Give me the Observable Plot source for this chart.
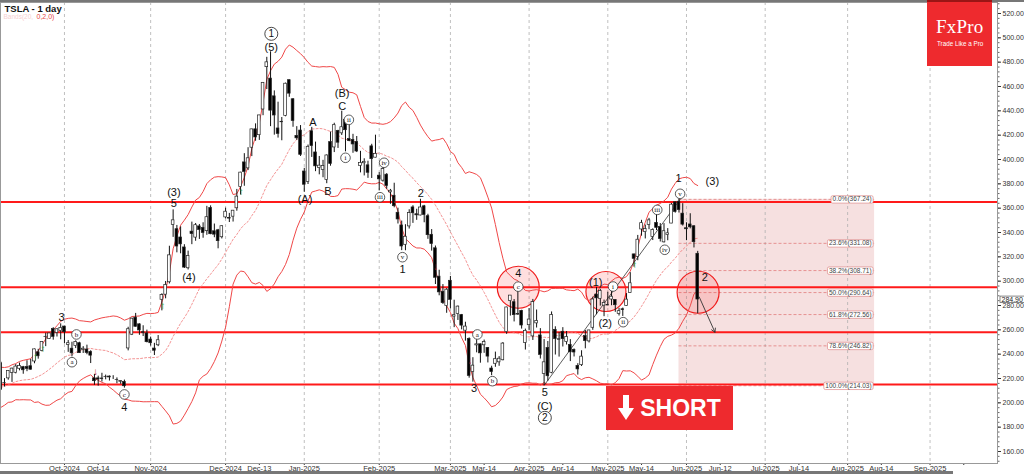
<!DOCTYPE html>
<html><head><meta charset="utf-8">
<script src="https://cdn.jsdelivr.net/npm/d3@7"></script>
<script src="https://cdn.jsdelivr.net/npm/@observablehq/plot@0.6"></script>
<style>
body{margin:0;background:#fff;}
#wrap{position:relative;width:1024px;height:474px;overflow:hidden;font-family:"Liberation Sans",Arial,sans-serif;}
.ov{position:absolute;}
</style></head><body><div id="wrap"></div>
<script>
// ---- daily candles TSLA (Sep 6 2024 - Jun 5 2025) ----
const dates = ("2024-09-06 2024-09-09 2024-09-10 2024-09-11 2024-09-12 2024-09-13 2024-09-16 2024-09-17 2024-09-18 2024-09-19 2024-09-20 2024-09-23 2024-09-24 2024-09-25 2024-09-26 2024-09-27 2024-09-30 " +
"2024-10-01 2024-10-02 2024-10-03 2024-10-04 2024-10-07 2024-10-08 2024-10-09 2024-10-10 2024-10-11 2024-10-14 2024-10-15 2024-10-16 2024-10-17 2024-10-18 2024-10-21 2024-10-22 2024-10-23 2024-10-24 2024-10-25 2024-10-28 2024-10-29 2024-10-30 2024-10-31 " +
"2024-11-01 2024-11-04 2024-11-05 2024-11-06 2024-11-07 2024-11-08 2024-11-11 2024-11-12 2024-11-13 2024-11-14 2024-11-15 2024-11-18 2024-11-19 2024-11-20 2024-11-21 2024-11-22 2024-11-25 2024-11-26 2024-11-27 2024-11-29 " +
"2024-12-02 2024-12-03 2024-12-04 2024-12-05 2024-12-06 2024-12-09 2024-12-10 2024-12-11 2024-12-12 2024-12-13 2024-12-16 2024-12-17 2024-12-18 2024-12-19 2024-12-20 2024-12-23 2024-12-24 2024-12-26 2024-12-27 2024-12-30 2024-12-31 " +
"2025-01-02 2025-01-03 2025-01-06 2025-01-07 2025-01-08 2025-01-10 2025-01-13 2025-01-14 2025-01-15 2025-01-16 2025-01-17 2025-01-21 2025-01-22 2025-01-23 2025-01-24 2025-01-27 2025-01-28 2025-01-29 2025-01-30 2025-01-31 " +
"2025-02-03 2025-02-04 2025-02-05 2025-02-06 2025-02-07 2025-02-10 2025-02-11 2025-02-12 2025-02-13 2025-02-14 2025-02-18 2025-02-19 2025-02-20 2025-02-21 2025-02-24 2025-02-25 2025-02-26 2025-02-27 2025-02-28 " +
"2025-03-03 2025-03-04 2025-03-05 2025-03-06 2025-03-07 2025-03-10 2025-03-11 2025-03-12 2025-03-13 2025-03-14 2025-03-17 2025-03-18 2025-03-19 2025-03-20 2025-03-21 2025-03-24 2025-03-25 2025-03-26 2025-03-27 2025-03-28 2025-03-31 " +
"2025-04-01 2025-04-02 2025-04-03 2025-04-04 2025-04-07 2025-04-08 2025-04-09 2025-04-10 2025-04-11 2025-04-14 2025-04-15 2025-04-16 2025-04-17 2025-04-21 2025-04-22 2025-04-23 2025-04-24 2025-04-25 2025-04-28 2025-04-29 2025-04-30 " +
"2025-05-01 2025-05-02 2025-05-05 2025-05-06 2025-05-07 2025-05-08 2025-05-09 2025-05-12 2025-05-13 2025-05-14 2025-05-15 2025-05-16 2025-05-19 2025-05-20 2025-05-21 2025-05-22 2025-05-23 2025-05-27 2025-05-28 2025-05-29 2025-05-30 " +
"2025-06-02 2025-06-03 2025-06-04 2025-06-05").split(" ");

const open = [
232.6,216.2,220.1,224.6,224.7,228.0,229.3,229.45,230.1,234.0,241.5,242.6,254.1,252.5,260.6,257.4,259.0,
262.7,247.6,244.5,246.7,249.0,243.6,243.8,241.8,220.1,220.1,220.0,221.4,221.6,220.7,218.9,217.3,217.1,244.7,256.0,270.0,264.5,258.0,257.0,
252.0,244.6,247.3,284.7,288.9,299.1,346.3,342.7,335.9,327.7,310.6,340.7,335.8,345.0,343.8,341.1,360.1,341.0,341.8,336.1,
352.4,351.8,353.0,359.9,377.4,397.6,392.7,409.7,424.8,420.0,441.1,475.9,466.5,451.9,425.5,431.0,435.9,465.2,449.5,419.4,423.8,
390.1,381.5,423.2,405.8,392.95,391.4,383.2,414.3,409.9,423.5,421.5,432.6,416.8,416.1,414.45,394.8,396.9,395.2,410.8,401.5,
386.7,382.6,387.5,373.0,370.2,356.2,345.8,329.9,345.0,360.6,355.0,354.0,361.5,353.4,338.1,327.0,303.7,291.2,279.5,
300.3,270.9,272.9,272.1,259.3,252.5,225.3,247.2,248.1,247.3,245.1,228.2,232.1,233.3,234.99,258.1,283.6,282.7,272.5,275.6,249.3,
263.8,254.6,265.3,255.4,223.8,245.0,224.7,260.0,251.8,258.4,249.9,247.6,243.5,230.3,230.96,254.9,250.5,261.7,288.98,285.5,279.9,
280.0,284.9,284.6,273.1,276.9,279.6,290.2,321.99,320.0,342.5,340.3,346.2,336.3,347.9,344.4,331.9,337.9,347.35,364.8,365.3,355.5,
343.5,346.6,345.1,322.5];
const high = [
233.6,219.9,226.4,228.5,231.4,232.7,229.96,234.6,235.7,244.2,243.99,250.0,257.2,257.05,261.75,260.7,264.9,
263.0,251.2,249.8,250.96,249.8,246.2,247.4,242.8,223.3,221.9,224.3,222.8,222.1,222.3,220.5,218.2,218.7,262.1,269.5,273.5,264.98,263.35,259.75,
254.0,248.9,255.3,289.6,299.75,328.7,358.6,345.8,344.6,329.98,324.7,348.55,347.4,346.6,347.99,361.5,361.9,346.96,342.55,345.45,
360.0,355.7,358.1,375.4,389.5,404.8,409.7,424.9,429.3,436.3,463.2,483.99,488.5,456.4,447.1,434.5,462.8,465.3,450.0,427.0,427.9,
392.7,411.9,426.4,414.3,402.5,399.3,403.8,422.6,429.8,424.0,439.7,433.2,428.0,420.7,418.9,406.7,400.6,398.6,412.5,419.99,
389.2,394.0,388.4,375.4,380.5,360.0,349.4,346.4,358.7,362.0,359.1,367.3,362.3,354.98,342.4,328.9,309.0,297.2,293.9,
303.9,284.35,279.55,272.65,266.25,253.4,237.1,251.8,248.3,251.6,245.4,230.1,241.7,238.0,249.5,278.6,288.2,284.9,291.85,276.1,260.6,
277.45,284.99,276.3,261.0,252.0,250.4,274.7,262.5,257.7,261.8,258.6,251.97,244.3,232.2,242.8,259.45,259.6,286.85,294.86,293.3,284.45,
290.9,294.8,284.6,277.7,277.9,289.8,307.0,322.2,337.6,350.0,346.1,351.6,343.0,354.99,347.35,347.3,343.2,363.8,365.0,367.7,363.7,
348.0,355.4,345.6,324.5];
const low = [
210.5,213.0,218.6,216.8,223.8,226.3,223.5,225.6,226.9,232.1,235.9,241.9,246.2,252.3,251.5,254.1,251.8,
248.5,241.5,237.8,244.6,240.7,240.6,239.5,232.3,214.4,213.7,217.1,218.9,217.9,219.2,215.7,215.3,212.1,242.7,255.3,262.2,255.5,254.5,249.3,
246.6,238.9,246.2,275.6,285.5,297.7,336.0,323.3,322.5,310.4,309.2,330.0,332.8,334.3,335.3,337.7,338.2,335.7,326.6,334.7,
351.2,348.2,348.6,357.5,370.8,378.0,390.9,402.4,415.0,415.7,436.0,457.5,427.0,420.0,417.6,415.4,435.1,451.1,426.5,415.75,402.5,
373.0,379.45,401.7,390.0,387.4,385.0,380.1,394.5,405.7,409.1,419.75,406.3,414.6,405.1,405.7,389.0,386.5,384.5,384.4,401.3,
374.4,381.4,375.5,363.2,360.3,347.0,325.1,325.0,342.85,347.5,350.0,353.7,348.0,334.4,324.7,297.25,288.0,280.9,273.6,
277.3,261.8,267.7,260.0,250.7,220.25,217.0,241.1,232.6,240.7,232.8,222.3,229.2,230.05,234.55,256.3,271.3,266.5,271.8,260.6,243.4,
259.25,251.27,261.5,236.0,214.25,217.8,223.9,239.3,237.6,245.9,247.5,233.9,237.7,222.8,229.85,244.4,249.2,259.6,272.4,279.5,270.8,
279.8,279.8,274.4,271.35,271.0,279.4,290.0,311.5,316.8,337.0,334.7,342.3,333.4,341.6,332.2,331.4,333.2,347.3,355.9,356.0,345.3,
333.3,343.0,327.3,273.2];
const close = [
210.73,216.27,226.17,228.13,229.81,230.29,226.78,227.87,227.20,243.92,238.25,250.00,254.27,257.02,254.22,260.46,261.63,
258.02,249.02,240.66,250.08,240.83,244.50,241.05,238.77,217.80,219.16,219.57,221.33,220.89,220.70,218.85,217.97,213.65,260.48,269.19,262.51,259.52,257.55,249.85,
248.98,242.84,251.44,288.53,296.91,321.22,350.00,328.49,330.24,311.18,320.72,338.74,346.00,342.03,339.64,352.56,338.59,338.23,332.89,345.16,
357.09,351.42,357.93,369.49,389.22,389.79,400.99,424.77,418.10,436.23,463.02,479.86,440.13,436.17,421.06,430.60,462.28,454.13,431.66,417.41,403.84,
379.28,410.44,411.05,394.36,394.94,394.74,403.31,396.36,428.22,413.82,426.50,424.07,415.11,412.38,406.58,397.15,398.09,389.10,400.28,404.60,
383.68,392.21,378.17,374.32,361.62,350.73,328.50,336.51,355.94,355.84,354.11,360.56,354.40,337.80,330.53,302.80,290.80,281.95,292.98,
284.65,272.04,279.10,263.45,262.67,222.15,230.58,248.09,240.68,249.98,238.01,225.31,235.86,236.26,248.71,278.39,288.14,272.06,273.13,263.55,259.16,
268.46,282.76,267.28,239.43,233.29,221.86,272.20,252.40,252.31,252.35,254.11,241.55,241.37,227.50,237.97,250.74,259.51,284.95,285.88,292.03,282.16,
280.52,287.21,280.26,275.35,276.22,284.82,298.26,318.38,334.07,347.68,342.82,349.98,342.09,343.82,334.62,341.04,339.34,362.89,356.90,358.43,346.46,
342.69,344.27,332.05,284.90];
// closes Aug 8 - Sep 5 2024 (Bollinger warm-up, not drawn as candles)
const warmClose = [198.84,200.00,197.49,207.83,201.38,214.14,216.12,222.72,221.10,223.27,210.66,220.32,213.21,209.21,205.75,206.28,214.11,210.60,219.41,230.17];

// ---- axes ----
const tickIdx = [0,9,23,43,52,64,84,103,112,124,133,145,154,166,175,187,196,209,218,231,240];
const tickLab = ["Oct-2024","Oct-14","Nov-2024","Dec-2024","Dec-13","Jan-2025","Feb-2025","Mar-2025","Mar-14","Apr-2025","Apr-14","May-2025","May-14","Jun-2025","Jun-12","Jul-2025","Jul-14","Aug-2025","Aug-14","Sep-2025",""];
const monthIdx = [0,23,43,64,84,103,124,145,166,187,209,231];
const yTicks = [160,180,200,220,240,260,280,300,320,340,360,380,400,420,440,460,480,500,520];
const lastPrice = 284.90;

// ---- drawing annotations ----
const levelLines = [365, 295, 258, 215];
const fibPct = ["0.0","23.6","38.2","50.0","61.8","78.6","100.0"];
const fibVal = [367.24,331.08,308.71,290.64,272.56,246.82,214.03];
const fibStartIdx = 164, fibEndIdx = 216.2;
const trendIdx = [128, 164.3], trendPrice = [214.3, 367.24];
const arrowFrom = [169.4, 287], arrowTo = [173.6, 258];
const bigCircles = [[121.1,295.0,21],[144.5,291.5,20],[169.1,290.9,21]];
const waveLabels = [["3",-0.8,270.4],["(3)",29.2,373],["5",29.2,363.8],["(4)",33.2,303.3],["4",16.0,196.4],
 ["(5)",55.2,492.3],["A",66.3,430.7],["(A)",64.2,366.9],["B",70.3,373.7],["(B)",74.1,454.5],["C",74.1,443.6],
 ["2",95.1,372.3],["1",90.2,309.6],["4",121.1,306.1],["3",109.3,211.5],["5",128.2,208.8],["(C)",128.2,197],
 ["(1)",141.8,299.2],["(2)",144.3,265],["1",163.9,384.1],["(3)",172.9,382.2],["2",170.9,302.7]];
const circled = [["a",2.0,233.4],["b",3.2,256.2],["c",16.0,206.9],["ii",75.9,432.6],["i",75.0,401.4],["iv",85.3,397.3],
 ["iii",84.2,369.0],["v",90.2,319.7],["a",110.2,256.2],["b",114.2,217.8],["c",121.1,295.5],["i",146.4,295.6],
 ["ii",149.1,266.3],["iii",158.2,358.6],["iv",160.2,325.8],["v",164.3,371.8]];
const bigCircled = [["1",55.2,503.3],["2",128.2,187.7]];
const upSignals = [[-7.7,237.5],[-5.7,244.7],[26.2,279.4],[47.2,373.3],[152.2,313.7]];
const downSignals = [[8.3,225.2],[88.1,367.1],[99.1,312],[108.2,234.8]];

// ---- build tables ----
const OFFSET = dates.indexOf("2024-10-01");
const candles = dates.map((d,k)=>({i:k-OFFSET, o:open[k], h:high[k], l:low[k], c:close[k]}));
const series = warmClose.map((c,k)=>({i:k-OFFSET-warmClose.length, c}))
  .concat(candles.map(d=>({i:d.i, c:d.c})));
const popStd = v => { const m = d3.mean(v); return Math.sqrt(d3.mean(v, x => (x-m)*(x-m))); };
const bbUp = v => d3.mean(v) + 2*popStd(v);
const bbDn = v => d3.mean(v) - 2*popStd(v);
const tickMap = new Map(tickIdx.map((t,k)=>[t, tickLab[k]]));
const fibRows = fibVal.map((v,k)=>({v, lab: `${fibPct[k]}%(${v.toFixed(2)})`}));

const sans = "Liberation Sans, Arial, sans-serif";
const serif = "Liberation Serif, Times New Roman, serif";

const chart = Plot.plot({
  width: 1024, height: 474,
  marginLeft: 0, marginRight: 27, marginTop: 2, marginBottom: 11,
  x: {domain: [-17.07, 249.0]},
  y: {domain: [150.14, 529.04]},
  r: {type: "identity"},
  style: {background: "#fff", fontFamily: sans, overflow: "visible"},
  marks: [
    Plot.rect([0], {x1: fibStartIdx, x2: fibEndIdx, y1: fibVal[fibVal.length-1], y2: fibVal[0], fill: "#f6e0e0"}),
    Plot.ruleX(monthIdx, {stroke: "#b0b0b0", strokeWidth: 0.8, strokeDasharray: "3,3"}),
    Plot.ruleY(fibRows, {y: "v", x1: fibStartIdx, x2: fibEndIdx, stroke: "#e07070", strokeWidth: 0.7, strokeDasharray: "3,2"}),
    Plot.dot(bigCircles, {x: d=>d[0], y: d=>d[1], r: d=>d[2], fill: "#ff3030", fillOpacity: 0.16, stroke: "#f01c1c", strokeWidth: 1.2}),
    Plot.ruleY(levelLines, {stroke: "#ff1a1a", strokeWidth: 2}),
    Plot.line(series, Plot.windowY({k: 20, anchor: "end", reduce: bbUp}, {x: "i", y: "c", stroke: "#f04848", strokeWidth: 1, clip: true})),
    Plot.line(series, Plot.windowY({k: 20, anchor: "end", reduce: bbDn}, {x: "i", y: "c", stroke: "#f04848", strokeWidth: 1, clip: true})),
    Plot.line(series, Plot.windowY({k: 20, anchor: "end", reduce: "mean"}, {x: "i", y: "c", stroke: "#f07878", strokeWidth: 0.8, strokeDasharray: "2,2", clip: true})),
    Plot.line(trendIdx.map((t,k)=>({i:t, p:trendPrice[k]})), {x: "i", y: "p", stroke: "#333", strokeWidth: 0.8}),
    Plot.ruleX(candles, {x: "i", y1: "l", y2: "h", stroke: "#111", strokeWidth: 1}),
    Plot.rect(candles, {x1: d=>d.i-0.36, x2: d=>d.i+0.36, y1: "o", y2: "c", fill: d=> d.c>=d.o ? "#fff" : "#000", stroke: "#222", strokeWidth: 0.7}),
    Plot.arrow([0], {x1: arrowFrom[0], y1: arrowFrom[1], x2: arrowTo[0], y2: arrowTo[1], stroke: "#333", strokeWidth: 0.9, headLength: 7}),
    Plot.text(fibRows, {x: fibEndIdx, y: "v", text: "lab", textAnchor: "end", dx: -3, fontSize: 6.5, fill: "#444"}),
    Plot.text(waveLabels, {x: d=>d[1], y: d=>d[2], text: d=>d[0], fontSize: 11, fill: "#111", fontFamily: sans}),
    Plot.dot(circled, {x: d=>d[1], y: d=>d[2], r: 4.8, fill: "#fff", stroke: "#333", strokeWidth: 0.8}),
    Plot.text(circled, {x: d=>d[1], y: d=>d[2], text: d=>d[0], fontSize: 7, fill: "#111", fontFamily: serif}),
    Plot.dot(bigCircled, {x: d=>d[1], y: d=>d[2], r: 6.5, fill: "#fff", stroke: "#333", strokeWidth: 0.9}),
    Plot.text(bigCircled, {x: d=>d[1], y: d=>d[2], text: d=>d[0], fontSize: 10, fill: "#111", fontFamily: sans}),
    Plot.text(upSignals, {x: d=>d[0], y: d=>d[1], text: ()=>"↑", fontSize: 10, fontWeight: "bold", fill: "#1f9a2a"}),
    Plot.text(downSignals, {x: d=>d[0], y: d=>d[1], text: ()=>"↓", fontSize: 10, fontWeight: "bold", fill: "#b02020"}),
    Plot.text(["TSLA - 1 day"], {frameAnchor: "top-left", dx: 4, dy: 3, fontSize: 9.5, fontWeight: "bold", fill: "#111", textAnchor: "start", lineAnchor: "top"}),
    Plot.text(["Bands(20,"], {frameAnchor: "top-left", dx: 3, dy: 12, fontSize: 6.5, fill: "#f6d0d0", textAnchor: "start", lineAnchor: "top"}),
    Plot.text(["0,2,0)"], {frameAnchor: "top-left", dx: 36, dy: 12, fontSize: 7, fill: "#e84848", textAnchor: "start", lineAnchor: "top"}),
    Plot.axisY({anchor: "right", ticks: d3.range(152, 529, 4), tickFormat: () => "", tickSize: 1.5, label: null, color: "#666"}),
    Plot.axisY({anchor: "right", ticks: yTicks, tickFormat: d => d.toFixed(2), tickSize: 3, tickPadding: 2, fontSize: 7, label: null, color: "#333"}),
    Plot.axisX({anchor: "bottom", ticks: tickIdx, tickFormat: d => tickMap.get(d), tickSize: 2, tickPadding: 0, fontSize: 7.5, label: null, color: "#333"}),
    Plot.text([lastPrice], {frameAnchor: "right", y: d=>d, text: d=>d.toFixed(2), dx: 4, textAnchor: "start", fontSize: 7, fill: "#222"}),
    Plot.frame({stroke: "#999"})
  ]
});

const wrap = document.getElementById("wrap");
wrap.append(chart);

// boxes behind the Fibonacci labels and the last price tag
const NS = "http://www.w3.org/2000/svg";
chart.querySelectorAll("text").forEach(t => {
  const s = t.textContent;
  const isFib = s.includes("%(");
  const isPrice = s === lastPrice.toFixed(2) && t.getAttribute("text-anchor") !== "middle";
  if (!isFib && !isPrice) return;
  const b = t.getBBox();
  const r = document.createElementNS(NS, "rect");
  r.setAttribute("x", b.x - 1.5);
  r.setAttribute("y", b.y + 0.3);
  r.setAttribute("width", b.width + 3);
  r.setAttribute("height", b.height - 0.6);
  r.setAttribute("fill", "#fff");
  r.setAttribute("stroke", isFib ? "#d88" : "#555");
  r.setAttribute("stroke-width", "0.7");
  r.setAttribute("rx", isFib ? "1.5" : "0");
  if (t.getAttribute("transform")) r.setAttribute("transform", t.getAttribute("transform"));
  t.parentNode.insertBefore(r, t);
});

// top and bottom bars
const topBar = document.createElement("div");
topBar.className = "ov"; topBar.style.cssText = "left:0;top:0;width:1024px;height:2px;background:#777;";
wrap.append(topBar);
const botBar = document.createElement("div");
botBar.className = "ov"; botBar.style.cssText = "left:0;top:471px;width:953px;height:3px;background:#777;";
wrap.append(botBar);

// SHORT badge
const shortBadge = document.createElement("div");
shortBadge.className = "ov";
shortBadge.style.cssText = "left:606px;top:386px;width:127px;height:44px;background:#ee2a2e;display:flex;align-items:center;justify-content:center;gap:6px;color:#fff;font:bold 23px 'Liberation Sans',Arial,sans-serif;";
shortBadge.innerHTML = '<svg width="16" height="26" viewBox="0 0 16 26"><rect x="5" y="0" width="6" height="15" fill="#fff"/><polygon points="0,13 16,13 8,25" fill="#fff"/></svg><span>SHORT</span>';
wrap.append(shortBadge);

// FxPro logo
const logo = document.createElement("div");
logo.className = "ov";
logo.style.cssText = "left:927px;top:0;width:65px;height:66px;background:#ee2a2e;border-top:2px solid #9a1515;box-sizing:border-box;color:#fff;";
logo.innerHTML = '<div style="position:absolute;left:9px;top:14px;font:19px \'Liberation Serif\',serif;letter-spacing:0.2px;">FxPro</div>' +
  '<div style="position:absolute;left:10px;top:38px;font:6.3px \'Liberation Sans\',Arial,sans-serif;white-space:nowrap;">Trade Like a Pro</div>';
wrap.append(logo);
</script>
</body></html>
